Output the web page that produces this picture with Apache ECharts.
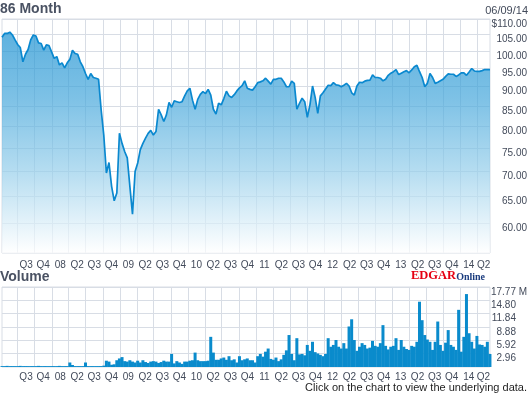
<!DOCTYPE html>
<html><head><meta charset="utf-8">
<script src="https://cdn.jsdelivr.net/npm/echarts@6/dist/echarts.min.js"></script>
<style>html,body{margin:0;padding:0;background:#fff}#c{width:530px;height:395px}</style>
</head><body><div id="c"></div>
<script>
const startDate = '2007-04-09';
const endDate = '2014-06-09';
const stepDays = 14;

const priceValues = [
104.2,105.4,105.4,105.8,104.9,103.4,102.0,101.1,96.9,99.1,
100.5,103.4,104.9,104.6,102.5,102.3,100.3,101.9,101.7,99.8,
97.9,98.4,96.0,96.6,95.2,96.6,97.6,100.3,99.3,99.1,
96.9,95.5,93.6,92.0,93.6,92.5,92.3,92.0,84.0,78.0,
69.7,71.9,67.0,64.2,65.7,78.4,76.1,74.3,72.9,67.0,
61.7,70.0,71.8,74.7,76.1,77.3,78.4,79.1,78.0,78.8,
84.2,82.8,81.2,82.8,85.9,84.7,86.3,86.1,85.9,86.1,
87.6,88.9,89.6,86.5,84.2,86.7,88.0,88.7,88.2,89.3,
87.8,84.2,83.0,85.7,85.3,86.9,88.8,87.6,87.2,87.9,
88.9,89.7,90.3,91.6,89.6,89.3,89.1,90.0,91.1,91.3,
91.6,92.3,91.5,90.7,92.0,92.0,92.3,92.3,91.3,90.0,
90.0,91.5,90.9,84.2,85.7,87.0,86.1,82.2,85.3,90.2,
87.2,83.2,87.6,88.4,89.4,90.4,90.3,91.1,90.5,90.4,
90.0,90.4,90.9,90.2,88.4,87.8,90.2,91.2,91.1,91.5,
91.7,91.8,93.2,92.5,92.5,92.3,91.6,92.0,93.1,93.7,
94.1,94.7,93.3,93.7,94.1,94.4,93.8,94.6,95.5,95.9,
94.1,92.5,90.0,90.9,93.6,92.5,90.9,91.2,91.6,92.0,
92.8,93.5,93.4,93.4,92.8,93.2,93.8,93.8,93.1,94.0,
95.0,94.3,94.2,94.2,94.4,94.7,94.7,94.7
];

const volumeValues = [
0.2,0.2,0.25,0.2,0.2,0.2,0.2,0.25,0.2,0.2,
0.2,0.2,0.2,0.2,0.25,0.2,0.2,0.2,0.2,0.2,
0.2,0.2,0.25,0.2,0.2,0.2,1.0,0.45,0.2,0.2,
0.2,0.2,1.0,0.2,0.2,0.2,0.2,0.2,0.2,0.3,
1.4,1.2,0.5,0.6,1.5,1.9,2.2,1.3,1.2,1.5,
1.2,1.0,1.4,1.0,1.5,1.1,0.9,1.2,1.3,1.2,
0.9,1.1,1.4,1.2,1.2,2.9,0.8,1.3,1.0,0.7,
1.2,1.2,1.4,1.5,3.2,1.5,
1.3,1.3,1.3,1.4,6.7,3.2,1.6,1.6,1.9,2.1,
1.6,2.4,1.5,1.7,1.0,2.4,1.5,1.7,1.9,1.5,
1.5,1.0,2.4,2.9,
2.3,3.4,4.1,1.8,1.6,2.1,1.3,1.7,2.7,3.7,
7.1,2.9,1.5,6.4,2.8,2.9,2.6,4.9,3.6,5.6,
3.3,3.0,2.7,2.4,2.9,6.4,4.5,4.9,6.0,4.5,
4.1,5.3,4.1,9.0,10.6,6.0,3.6,4.5,5.3,4.9,
4.1,4.3,5.8,4.7,4.5,5.3,9.3,4.7,3.9,4.5,
4.7,6.4,
3.8,6.0,4.5,4.0,3.8,4.7,4.5,5.6,
14.5,10.4,7.1,6.1,5.6,3.8,5.6,10.1,4.9,3.6,
5.4,8.2,4.9,4.5,3.8,12.7,3.4,6.7,16.2,7.5,
5.6,4.1,6.9,5.0,4.9,4.5,5.6,2.9
];

const priceTickValues = [60,65,70,75,80,85,90,95,100,105,110];
const volumeTickValues = [2.96,5.92,8.88,11.84,14.80,17.77];
const volumeTickLabels = ['2.96','5.92','8.88','11.84','14.80','17.77'];
const volumeMax = 17.77;

const quarterStarts = [
'2007-07-01','2007-10-01',
'2008-01-01','2008-04-01','2008-07-01','2008-10-01',
'2009-01-01','2009-04-01','2009-07-01','2009-10-01',
'2010-01-01','2010-04-01','2010-07-01','2010-10-01',
'2011-01-01','2011-04-01','2011-07-01','2011-10-01',
'2012-01-01','2012-04-01','2012-07-01','2012-10-01',
'2013-01-01','2013-04-01','2013-07-01','2013-10-01',
'2014-01-01','2014-04-01'
];
const quarterLabels = [
'Q3','Q4',
'08','Q2','Q3','Q4',
'09','Q2','Q3','Q4',
'10','Q2','Q3','Q4',
'11','Q2','Q3','Q4',
'12','Q2','Q3','Q4',
'13','Q2','Q3','Q4',
'14','Q2'
];

function toTs(s){ const p = s.split('-').map(Number); return Date.UTC(p[0], p[1]-1, p[2]); }
const DAY = 86400000;
const t0 = toTs(startDate), t1 = toTs(endDate);
const priceData = priceValues.map((v,i) => [t0 + i*stepDays*DAY, v]);
const volumeData = volumeValues.map((v,i) => [t0 + i*stepDays*DAY, v]);

const qTs = quarterStarts.map(toTs);
const qMid = qTs.map((a,k) => Math.round((a + (k+1 < qTs.length ? qTs[k+1] : t1)) / 2));
function qFormatter(v){
  let best = '', bd = Infinity;
  qMid.forEach((m,k) => { const d = Math.abs(m - v); if (d < bd) { bd = d; best = quarterLabels[k]; } });
  return best;
}

const gridColor = '#d8dde5';
const textColor = '#434b5b';
const labelFont = "'Liberation Sans', Arial, sans-serif";

const xAxisBase = (idx, margin) => ({
  type: 'value', gridIndex: idx, min: t0, max: t1, scale: true,
  axisLine: {show: false},
  axisTick: {show: false, customValues: qTs},
  splitLine: {show: true, lineStyle: {color: gridColor, width: 1}},
  axisLabel: {customValues: qMid, formatter: qFormatter,
    fontSize: 10, fontFamily: labelFont, color: textColor, margin: margin, hideOverlap: false}
});

const chart = echarts.init(document.getElementById('c'), null, {renderer: 'canvas'});
chart.setOption({
  animation: false,
  backgroundColor: '#ffffff',
  title: [
    {text: '86 Month', left: 0, top: 2, padding: 0, textStyle: {fontSize: 14, fontWeight: 'bold', color: '#4a5263', fontFamily: labelFont}},
    {text: '06/09/14', right: 2, top: 5, padding: 0, textStyle: {fontSize: 11, fontWeight: 'normal', color: textColor, fontFamily: labelFont}},
    {text: 'Volume', left: 0, top: 270, padding: 0, textStyle: {fontSize: 14, fontWeight: 'bold', color: '#4a5263', fontFamily: labelFont}},
    {text: 'Click on the chart to view the underlying data.', right: 3, top: 382, padding: 0, textStyle: {fontSize: 11, fontWeight: 'normal', color: '#1e1e1e', fontFamily: labelFont}}
  ],
  graphic: [{
    type: 'text', left: 411, top: 269,
    style: {
      text: '{e|EDGAR}{o|Online}',
      rich: {
        e: {fontFamily: "'Liberation Serif', serif", fontWeight: 'bold', fontSize: 12.5, fill: '#e50012', verticalAlign: 'bottom'},
        o: {fontFamily: "'Liberation Serif', serif", fontWeight: 'bold', fontSize: 10, fill: '#1b3c7e', verticalAlign: 'bottom'}
      }
    }
  }],
  grid: [
    {left: 2, right: 38, top: 19, height: 234, show: true, borderColor: gridColor, borderWidth: 1, containLabel: false},
    {left: 2, right: 38, top: 287, height: 80, show: true, borderColor: gridColor, borderWidth: 1, containLabel: false}
  ],
  xAxis: [xAxisBase(0, 7), xAxisBase(1, 5)],
  yAxis: [
    {
      type: 'log', gridIndex: 0, min: 55, max: 110, position: 'right',
      axisLine: {show: false},
      axisTick: {show: false, customValues: priceTickValues},
      splitLine: {show: true, lineStyle: {color: gridColor, width: 1}},
      axisLabel: {
        customValues: priceTickValues, align: 'right', margin: 37, verticalAlign: 'top',
        fontSize: 10, fontFamily: labelFont, color: textColor,
        formatter: v => { const r = Math.round(v*100)/100; return (r === 110 ? '$' : '') + r.toFixed(2); }
      }
    },
    {
      type: 'value', gridIndex: 1, min: 0, max: volumeMax, position: 'right',
      axisLine: {show: false},
      axisTick: {show: false, customValues: volumeTickValues},
      splitLine: {show: true, lineStyle: {color: gridColor, width: 1}},
      axisLabel: {
        customValues: volumeTickValues, align: 'right', margin: 37, verticalAlign: 'top',
        fontSize: 10, fontFamily: labelFont, color: textColor,
        formatter: v => {
          let k = 0, bd = Infinity;
          volumeTickValues.forEach((t,j) => { const d = Math.abs(t - v); if (d < bd) { bd = d; k = j; } });
          return '{n|' + volumeTickLabels[k] + '}' + (k === volumeTickValues.length - 1 ? '{u| M}' : '{u| }');
        },
        rich: {
          n: {fontSize: 10, fontFamily: labelFont, color: textColor},
          u: {fontSize: 10, fontFamily: labelFont, color: textColor, width: 11, align: 'left'}
        }
      }
    }
  ],
  series: [
    {
      type: 'line', xAxisIndex: 0, yAxisIndex: 0, data: priceData,
      showSymbol: false, symbol: 'none',
      lineStyle: {color: '#0a88cf', width: 1.7},
      areaStyle: {
        origin: 'start',
        color: new echarts.graphic.LinearGradient(0, 0, 0, 1, [
          {offset: 0, color: '#1990d1'},
          {offset: 0.3, color: '#46a7db'},
          {offset: 0.62, color: '#93cdea'},
          {offset: 1, color: '#ffffff'}
        ])
      }
    },
    {
      type: 'bar', xAxisIndex: 1, yAxisIndex: 1, data: volumeData,
      barWidth: 3, itemStyle: {color: '#0a8bcc'}
    }
  ]
});
</script>
</body></html>
